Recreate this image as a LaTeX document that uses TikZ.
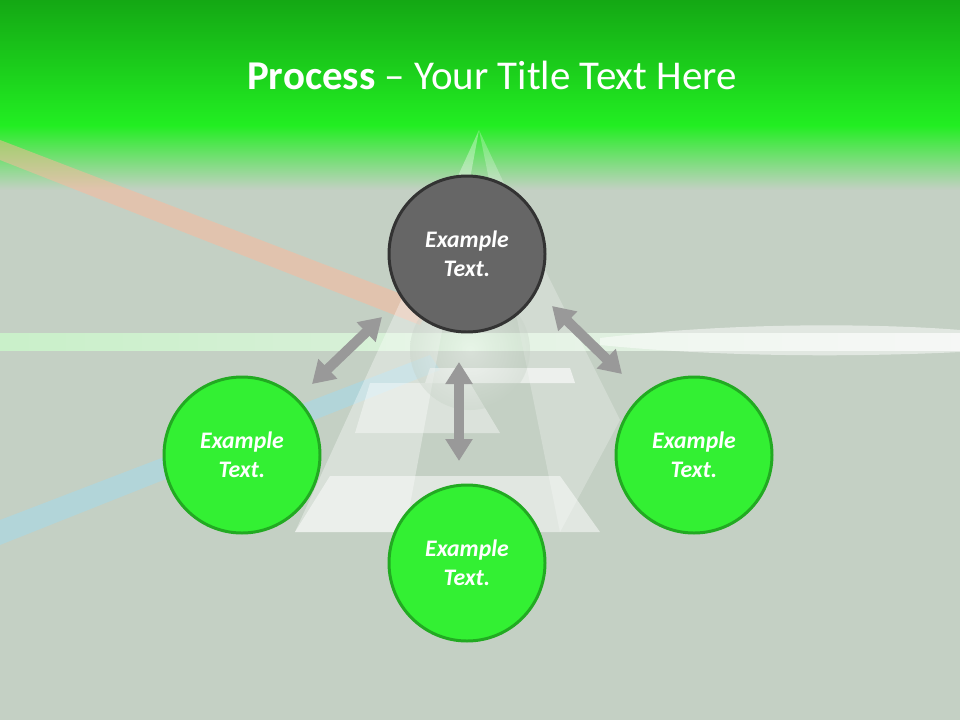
\documentclass[tikz,border=0pt]{standalone}
\usepackage{fontspec}
\setmainfont{Carlito}
\usetikzlibrary{arrows.meta}
\definecolor{bg}{HTML}{C4D0C4}
\definecolor{gtop}{HTML}{14A814}
\definecolor{gmid}{HTML}{22EE22}
\definecolor{cg}{HTML}{33F033}
\definecolor{cgb}{HTML}{22AA22}
\definecolor{dk}{HTML}{666666}
\definecolor{arr}{HTML}{999999}
\tikzset{
 step circ/.style={circle,minimum size=156*0.02cm,line width=1.7pt,text=white,font=\bfseries\itshape\fontsize{13.5}{16.5}\selectfont,align=center,inner sep=0pt},
 greenc/.style={step circ,fill=cg,draw=cgb},
 darkc/.style={step circ,fill=dk,draw=black!80},
 dbl/.style={draw=arr,line width=10*0.02cm,{Triangle[width=26*0.02cm,length=22*0.02cm]}-{Triangle[width=26*0.02cm,length=22*0.02cm]}},
}
\begin{document}
\begin{tikzpicture}[x=0.02cm,y=-0.02cm]
\useasboundingbox (0,0) rectangle (960,720);
\fill[bg] (0,0) rectangle (960,720);
\shade[top color=gtop,bottom color=gmid] (0,0) rectangle (960,125);
\shade[top color=gmid,bottom color=bg] (0,125) rectangle (960,190);
% beams
\fill[red!40!orange!40,opacity=0.5] (0,140) -- (0,160) -- (420,325) -- (430,305) -- cycle;
\fill[cyan!40,opacity=0.4] (0,520) -- (0,545) -- (440,370) -- (430,355) -- cycle;
\shade[left color=green!20!white,right color=white,opacity=0.7] (0,333) rectangle (960,350);
\fill[white,opacity=0.5] (600,338) .. controls (750,320) and (900,325) .. (960,330) -- (960,352) .. controls (900,355) and (750,360) .. (600,345) -- cycle;
% pyramid
\fill[white,opacity=0.35] (479,130) -- (295,532) -- (405,532) -- (479,130) -- cycle;
\fill[white,opacity=0.25] (479,130) -- (540,260) -- (620,420) -- (560,532) -- cycle;
\fill[white,opacity=0.5] (330,476) -- (295,532) -- (600,532) -- (560,476) -- cycle;
\fill[white,opacity=0.4] (370,383) -- (355,433) -- (500,433) -- (470,383) -- cycle;
\fill[white,opacity=0.6] (430,368) -- (570,368) -- (575,383) -- (425,383) -- cycle;
\shade[inner color=white,outer color=bg,opacity=0.35] (470,350) circle (60);
\node[font=\fontsize{23.3}{28}\selectfont,text=white] (title) at (492,75) {\textbf{Process} – Your Title Text Here};
\node[darkc] (top) at (467,254) {Example\\Text.};
\node[greenc] (left) at (242,455) {Example\\Text.};
\node[greenc] (right) at (694,455) {Example\\Text.};
\node[greenc] (bot) at (467,563) {Example\\Text.};
\coordinate (a1) at (312,384); \coordinate (a2) at (382,317);
\coordinate (b1) at (552,306); \coordinate (b2) at (622,374);
\coordinate (c1) at (459,362); \coordinate (c2) at (459,461);
\draw[dbl] (a1) -- (a2);
\draw[dbl] (b1) -- (b2);
\draw[dbl] (c1) -- (c2);
\end{tikzpicture}
\end{document}
